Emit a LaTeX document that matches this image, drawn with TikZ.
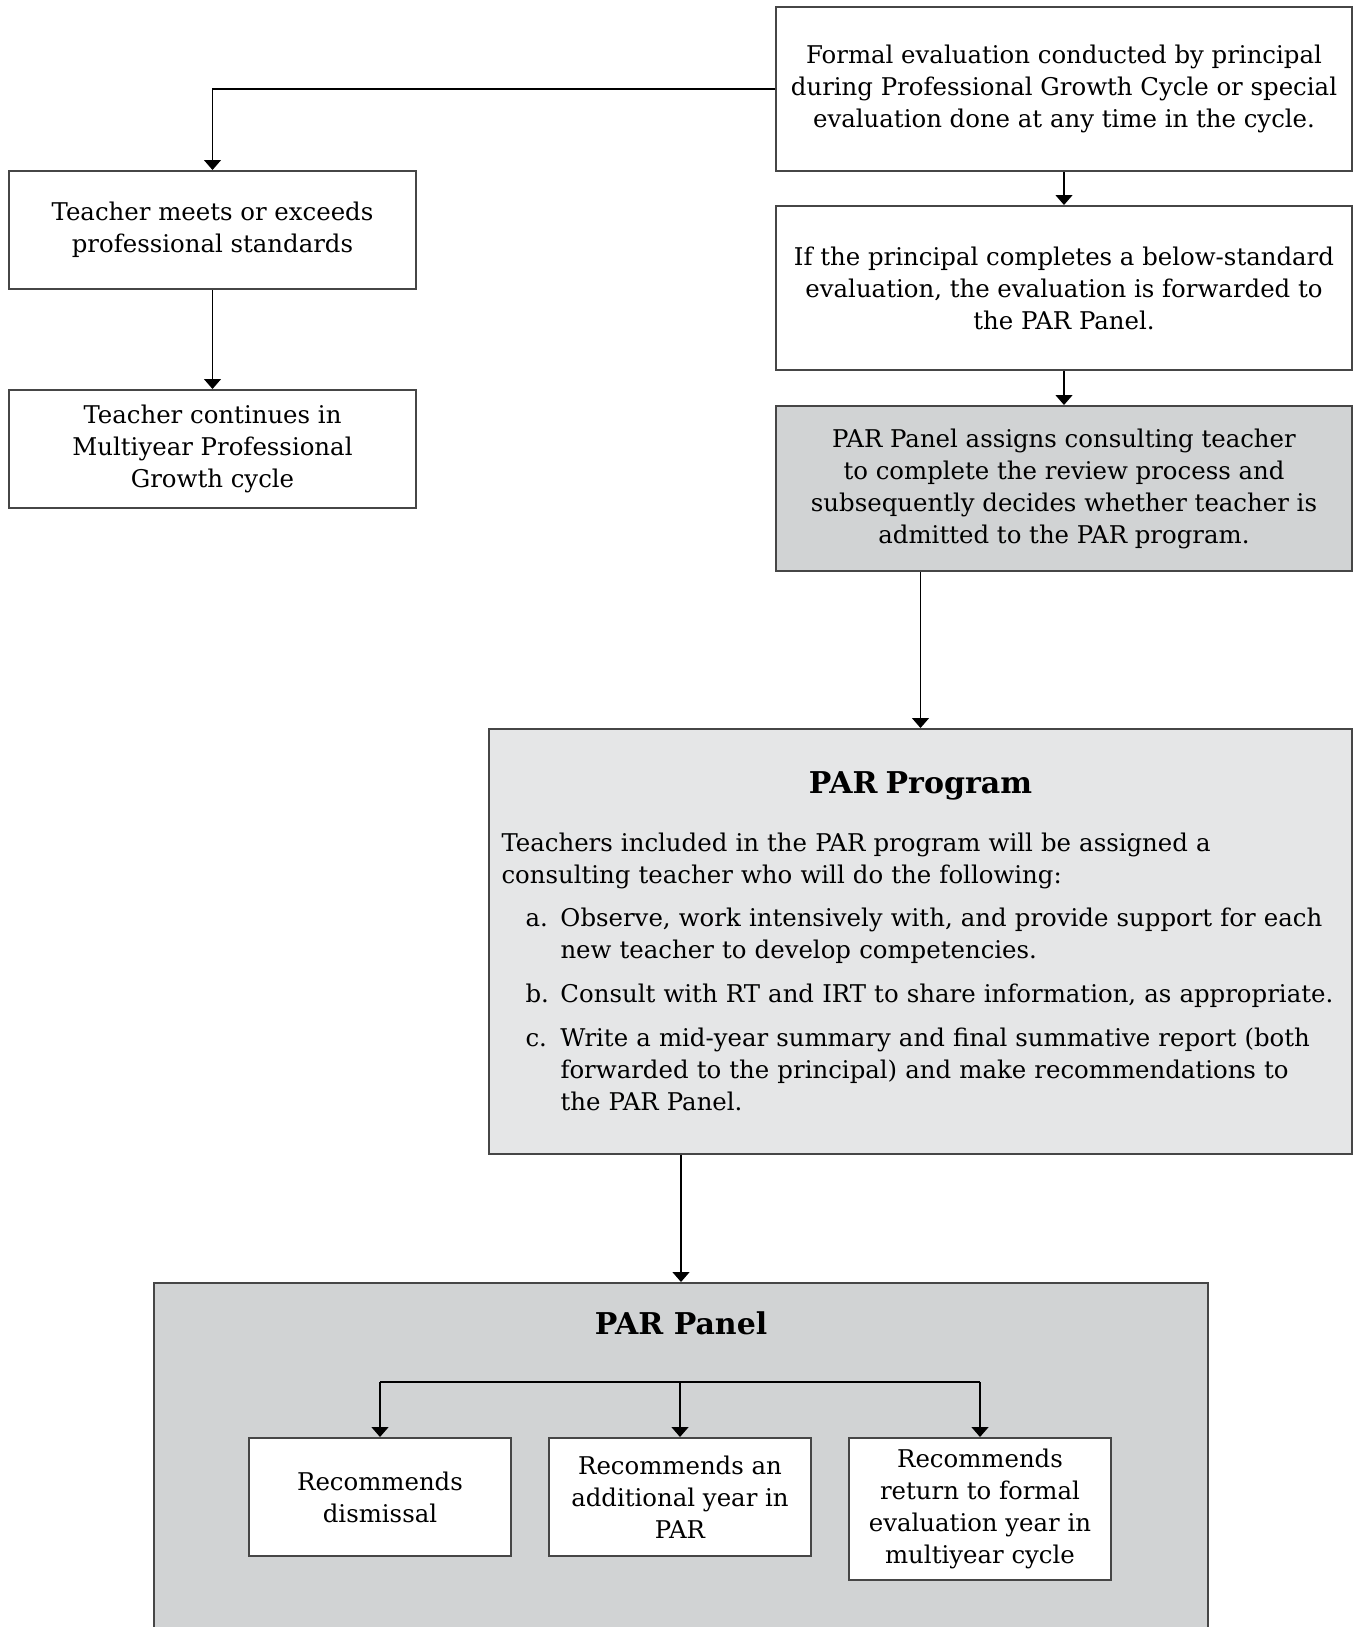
\documentclass[tikz,border=0pt]{standalone}
\usepackage{fontspec}
\setmainfont{DejaVu Serif}
\usepackage{tikz}
\usetikzlibrary{arrows.meta,calc}
\definecolor{parGray} {RGB}{209,211,212}
\definecolor{parLight}{RGB}{229,230,231}
\definecolor{boxLine} {RGB}{70, 70, 70}
\newcommand{\boxfont}{\fontsize{12.2}{16}\selectfont}
\newcommand{\parhead}{\fontsize{15}{18}\selectfont\bfseries}

\tikzset{
    stepbox/.style={draw=boxLine,line width=1pt,fill=white,inner sep=0pt,
                    align=center,font=\boxfont},
    flow/.style={-{Triangle[width=8.5pt,length=5pt]},line width=0.7pt},
    plain/.style={line width=0.7pt}
}

\begin{document}
\begin{tikzpicture}[x=0.5pt,y=-0.5pt]

    \path[use as bounding box,clip] (0,0) rectangle (1356,1627);

    % ─── Evaluation path (right column) ───────────────────
    \node[stepbox,minimum width=288pt,minimum height=82pt] (evalbox) at (1064,89)
      {Formal evaluation conducted by principal\\during Professional Growth Cycle or special\\evaluation done at any time in the cycle.};
    \node[stepbox,minimum width=288pt,minimum height=82pt] (belowbox) at (1064,288)
      {If the principal completes a below-standard\\evaluation, the evaluation is forwarded to\\the PAR Panel.};
    \node[stepbox,fill=parGray,minimum width=288pt,minimum height=82.5pt] (assignbox) at (1064,488.5)
      {PAR Panel assigns consulting teacher\\to complete the review process and\\subsequently decides whether teacher is\\admitted to the PAR program.};

    % ─── Standards met (left column) ──────────────────────
    \node[stepbox,minimum width=203.5pt,minimum height=59pt] (meetsbox) at (212.5,230)
      {Teacher meets or exceeds\\professional standards};
    \node[stepbox,minimum width=203.5pt,minimum height=59pt] (contbox) at (212.5,449)
      {Teacher continues in\\Multiyear Professional\\Growth cycle};

    % ─── PAR Program ──────────────────────────────────────
    \node[stepbox,fill=parLight,minimum width=431.5pt,minimum height=212.5pt,
          text width=419pt,align=left] (progbox) at (920.5,941.5)
      {{\centering\parhead PAR Program\par}\vspace{13pt}
       Teachers included in the PAR program will be assigned a\newline
       consulting teacher who will do the following:\par\vspace{5.5pt}
       {\leftskip=29.5pt\noindent\llap{\makebox[17.5pt][l]{a.}}Observe, work intensively with, and provide support for each\newline
        new teacher to develop competencies.\par}\vspace{6pt}
       {\leftskip=29.5pt\noindent\llap{\makebox[17.5pt][l]{b.}}Consult with RT and IRT to share information, as appropriate.\par}\vspace{6pt}
       {\leftskip=29.5pt\noindent\llap{\makebox[17.5pt][l]{c.}}Write a mid-year summary and final summative report (both\newline
        forwarded to the principal) and make recommendations to\newline
        the PAR Panel.\par}};

    % ─── PAR Panel ────────────────────────────────────────
    \node[stepbox,fill=parGray,minimum width=527pt,minimum height=200pt] (panelbox) at (681,1483) {};
    \node[font=\parhead] (paneltitle) at (681,1323) {PAR Panel};
    \coordinate (fork) at (680,1382);

    \node[stepbox,minimum width=131pt,minimum height=59pt] (dismissbox) at (380,1497)
      {Recommends\\dismissal};
    \node[stepbox,minimum width=131pt,minimum height=59pt] (extrabox) at (680,1497)
      {Recommends an\\additional year in\\PAR};
    \node[stepbox,minimum width=131pt,minimum height=71pt] (returnbox) at (980,1509)
      {Recommends\\return to formal\\evaluation year in\\multiyear cycle};

    % Setas
    \draw[flow] (evalbox.west) -| (meetsbox.north);
    \draw[flow] (meetsbox) -- (contbox);
    \draw[flow] (evalbox) -- (belowbox);
    \draw[flow] (belowbox) -- (assignbox);
    \draw[flow] (assignbox.south -| progbox.north) -- (progbox.north);
    \draw[flow] (progbox.south -| panelbox.north) -- (panelbox.north);
    \draw[plain] (fork -| dismissbox) -- (fork -| returnbox);
    \foreach \b in {dismissbox,extrabox,returnbox}{
      \draw[flow] (fork -| \b.north) -- (\b.north);
    }

  \end{tikzpicture}
\end{document}
